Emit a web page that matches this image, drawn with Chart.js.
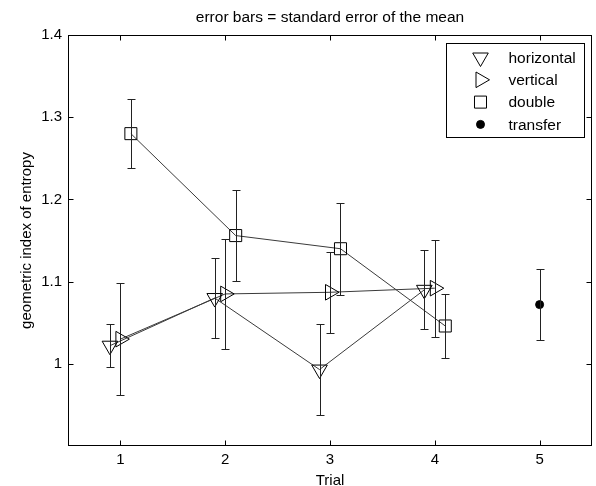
<!DOCTYPE html>
<html>
<head>
<meta charset="utf-8">
<script src="https://cdn.jsdelivr.net/npm/chart.js@4.4.1/dist/chart.umd.min.js"></script>
<style>
  html, body { margin: 0; padding: 0; background: #fff; overflow: hidden; }
  canvas { display: block; }
</style>
</head>
<body>
<canvas id="chart" width="596" height="486"></canvas>
<script>
// groups are nudged sideways around each trial, like in the original figure
const horizX   = [0.9, 1.9, 2.9, 3.9]
const horizY   = [1.022, 1.080, 0.993, 1.090]
const horizErr = [0.026, 0.049, 0.055, 0.048]

const vertX   = [1, 2, 3, 4]
const vertY   = [1.030, 1.085, 1.087, 1.092]
const vertErr = [0.068, 0.067, 0.049, 0.059]

const doubleX   = [1.1, 2.1, 3.1, 4.1]
const doubleY   = [1.280, 1.156, 1.140, 1.046]
const doubleErr = [0.042, 0.055, 0.056, 0.039]

const transferX   = [5]
const transferY   = [1.072]
const transferErr = [0.043]

const xTicks = [1, 2, 3, 4, 5]
const yTicks = [1, 1.1, 1.2, 1.3, 1.4]

const legendNames = ['horizontal', 'vertical', 'double', 'transfer']
const titleText = 'error bars = standard error of the mean'

const FONT = "'Liberation Sans', Arial, sans-serif"
const INK = '#000'
const LINE = '#3a3a3a'

function pts(xs, ys) {
	return xs.map((x, i) => ({ x: x, y: ys[i] }))
}

// error bars, drawn with the chart's own scales
const errorBars = {
	id: 'errorBars',
	afterDatasetsDraw(chart) {
		const ctx = chart.ctx
		const xs = chart.scales.x
		const ys = chart.scales.y
		ctx.save()
		ctx.strokeStyle = '#222'
		ctx.lineWidth = 1
		chart.data.datasets.forEach(ds => {
			ds.data.forEach((p, i) => {
				const e = ds.err[i]
				const px = Math.round(xs.getPixelForValue(p.x)) + 0.5
				const top = Math.round(ys.getPixelForValue(p.y + e)) + 0.5
				const bot = Math.round(ys.getPixelForValue(p.y - e)) + 0.5
				ctx.beginPath()
				ctx.moveTo(px, top); ctx.lineTo(px, bot)
				ctx.moveTo(px - 4, top); ctx.lineTo(px + 4, top)
				ctx.moveTo(px - 4, bot); ctx.lineTo(px + 4, bot)
				ctx.stroke()
			})
		})
		ctx.restore()
	}
}

// box around the axes, short inward tick marks on all four sides, title over the plot
const axesBox = {
	id: 'axesBox',
	afterDraw(chart) {
		const ctx = chart.ctx
		const a = chart.chartArea
		const xs = chart.scales.x
		const ys = chart.scales.y
		const L = Math.round(a.left) + 0.5, R = Math.round(a.right) - 0.5
		const T = Math.round(a.top) + 0.5, B = Math.round(a.bottom) - 0.5
		ctx.save()
		ctx.strokeStyle = INK
		ctx.lineWidth = 1
		ctx.strokeRect(L, T, R - L, B - T)
		ctx.beginPath()
		xTicks.forEach(v => {
			const px = Math.round(xs.getPixelForValue(v)) + 0.5
			ctx.moveTo(px, B); ctx.lineTo(px, B - 5)
			ctx.moveTo(px, T); ctx.lineTo(px, T + 5)
		})
		yTicks.forEach(v => {
			const py = Math.round(ys.getPixelForValue(v)) + 0.5
			ctx.moveTo(L, py); ctx.lineTo(L + 5, py)
			ctx.moveTo(R, py); ctx.lineTo(R - 5, py)
		})
		ctx.stroke()
		ctx.fillStyle = INK
		ctx.font = '15.5px ' + FONT
		ctx.textAlign = 'center'
		ctx.textBaseline = 'middle'
		ctx.fillText(titleText, (a.left + a.right) / 2, a.top - 17)
		ctx.restore()
	}
}

// boxed legend in the upper right corner
const boxLegend = {
	id: 'boxLegend',
	afterDraw(chart) {
		const ctx = chart.ctx
		const a = chart.chartArea
		const w = 138, h = 94
		const x0 = Math.round(a.right) - 8 - w + 0.5
		const y0 = Math.round(a.top) + 8 + 0.5
		ctx.save()
		ctx.fillStyle = '#fff'
		ctx.fillRect(x0, y0, w, h)
		ctx.strokeStyle = INK
		ctx.lineWidth = 1
		ctx.strokeRect(x0, y0, w, h)
		ctx.font = '15.5px ' + FONT
		ctx.textBaseline = 'middle'
		ctx.textAlign = 'left'
		chart.data.datasets.forEach((ds, i) => {
			const cy = y0 + 14 + i * 22.3
			const cx = x0 + 34
			const opts = {
				pointStyle: ds.pointStyle,
				rotation: ds.rotation || 0,
				radius: ds.pointRadius,
				borderWidth: 1
			}
			ctx.fillStyle = ds.pointBackgroundColor
			ctx.strokeStyle = INK
			Chart.helpers.drawPoint(ctx, opts, cx, cy)
			ctx.fillStyle = INK
			ctx.fillText(legendNames[i], x0 + 62, cy + 1)
		})
		ctx.restore()
	}
}

Chart.defaults.font.family = FONT
Chart.defaults.font.size = 15
Chart.defaults.color = INK

new Chart(document.getElementById('chart'), {
	type: 'scatter',
	data: {
		datasets: [{
			label: legendNames[0],
			data: pts(horizX, horizY),
			err: horizErr,
			showLine: true,
			borderColor: LINE,
			borderWidth: 1,
			pointStyle: 'triangle',
			rotation: 180,
			pointRadius: 9,
			pointBorderColor: INK,
			pointBorderWidth: 1,
			pointBackgroundColor: 'rgba(0,0,0,0)'
		}, {
			label: legendNames[1],
			data: pts(vertX, vertY),
			err: vertErr,
			showLine: true,
			borderColor: LINE,
			borderWidth: 1,
			pointStyle: 'triangle',
			rotation: 90,
			pointRadius: 9,
			pointBorderColor: INK,
			pointBorderWidth: 1,
			pointBackgroundColor: 'rgba(0,0,0,0)'
		}, {
			label: legendNames[2],
			data: pts(doubleX, doubleY),
			err: doubleErr,
			showLine: true,
			borderColor: LINE,
			borderWidth: 1,
			pointStyle: 'rect',
			pointRadius: 8.5,
			pointBorderColor: INK,
			pointBorderWidth: 1,
			pointBackgroundColor: 'rgba(0,0,0,0)'
		}, {
			label: legendNames[3],
			data: pts(transferX, transferY),
			err: transferErr,
			showLine: false,
			pointStyle: 'circle',
			pointRadius: 4,
			pointBorderColor: INK,
			pointBorderWidth: 1,
			pointBackgroundColor: INK
		}]
	},
	options: {
		responsive: false,
		animation: false,
		devicePixelRatio: 1,
		layout: { autoPadding: false, padding: { left: 0, right: 4, top: 35, bottom: 0 } },
		plugins: {
			legend: { display: false },
			tooltip: { enabled: false },
			title: { display: false }
		},
		scales: {
			x: {
				type: 'linear',
				min: 0.5,
				max: 5.5,
				afterBuildTicks: s => { s.ticks = xTicks.map(v => ({ value: v })) },
				afterFit: s => { s.height = 40 },
				grid: { display: false, drawTicks: false, tickLength: 0 },
				border: { display: false },
				ticks: { padding: 0, color: INK, font: { lineHeight: 1.85 }, callback: v => String(v) },
				title: { display: true, text: 'Trial', color: INK, padding: { top: 0, bottom: -4 } }
			},
			y: {
				type: 'linear',
				min: 0.9,
				max: 1.4,
				afterBuildTicks: s => { s.ticks = yTicks.map(v => ({ value: v })) },
				afterFit: s => { s.width = 68 },
				grid: { display: false, drawTicks: false, tickLength: 0 },
				border: { display: false },
				ticks: { padding: 6, color: INK, callback: v => String(+v.toFixed(1)) },
				title: { display: true, text: 'geometric index of entropy', color: INK, padding: { top: 18, bottom: 0 } }
			}
		}
	},
	plugins: [errorBars, axesBox, boxLegend]
})
</script>
</body>
</html>
